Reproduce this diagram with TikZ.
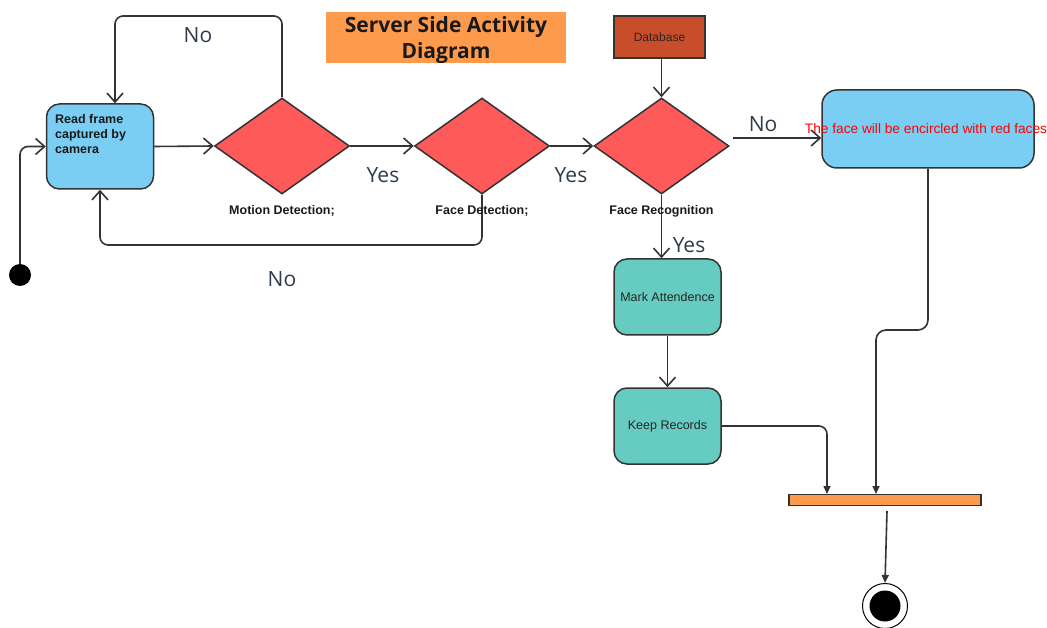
\documentclass[tikz,border=0pt]{standalone}
\usepackage{fontspec}
\setmainfont{Liberation Sans}
\newfontfamily\opensans{Open Sans}
\usetikzlibrary{arrows.meta,shapes.geometric}

\definecolor{actblue}{HTML}{7ACEF4}
\definecolor{decred}{HTML}{FF5A5A}
\definecolor{actteal}{HTML}{66CBC0}
\definecolor{barorange}{HTML}{FD9A4B}
\definecolor{dbbrown}{HTML}{C84D2B}
\definecolor{edge}{HTML}{333333}
\definecolor{answerink}{HTML}{2F3B4A}

\tikzset{
  bluebox/.style={draw=edge, line width=1.5pt, fill=actblue, rounded corners=13pt, inner sep=0pt},
  tealbox/.style={draw=edge, line width=1.5pt, fill=actteal, rounded corners=13pt,
    minimum width=107pt, minimum height=76pt, inner sep=0pt,
    font=\fontsize{12.5}{15}\selectfont, text=black!85},
  decision/.style={diamond, draw=edge, line width=1.5pt, fill=decred,
    minimum width=135pt, minimum height=96pt, inner sep=0pt},
  dlabel/.style={font=\bfseries\fontsize{12.5}{15}\selectfont, text=black!90, inner sep=0pt},
  answer/.style={font=\opensans\fontsize{21}{25}\selectfont, text=answerink, inner sep=0pt},
  flow/.style={draw=edge, line width=1.6pt, rounded corners=8pt,
    -{Straight Barb[length=9pt,width=16pt]}},
  joinflow/.style={draw=edge, line width=1.6pt, rounded corners=8pt,
    -{Triangle[length=8pt,width=7pt]}},
}

\begin{document}
\begin{tikzpicture}[x=1pt,y=-1pt]
\useasboundingbox (0,0) rectangle (1047,628);

% title banner
\node[fill=barorange, minimum width=240pt, minimum height=51pt, inner sep=0pt]
  (title) at (446,37.5) {};
\node[align=center, font=\opensans\bfseries\fontsize{21}{26}\selectfont, text=black!90,
      inner sep=0pt] (titletxt) at (446,40) {Server Side Activity\\Diagram};

% initial and final states
\node[circle, fill=black, minimum size=22pt, inner sep=0pt] (start) at (20,275) {};
\node[circle, draw=black, line width=1pt, fill=white, minimum size=45pt, inner sep=0pt]
  (final) at (885,606) {};
\fill[black] (final.center) circle (15.5pt);

% activities
\node[bluebox, minimum width=107pt, minimum height=85pt] (read) at (100,146.5) {};
\node[dlabel, anchor=north west, align=left] (readtxt) at (55,114)
  {Read frame\\captured by\\camera};

\node[bluebox, rounded corners=15pt, minimum width=212pt, minimum height=78pt]
  (encircle) at (928,129) {};
\node[font=\fontsize{13.7}{16}\selectfont, text=red, inner sep=0pt]
  (encircletxt) at (926,129) {The face will be encircled with red faces};

\node[tealbox] (mark) at (667.5,297) {Mark Attendence};
\node[tealbox] (keep) at (667.5,426) {Keep Records};

\node[draw=edge, line width=1.2pt, fill=dbbrown, minimum width=91pt, minimum height=42pt,
      inner sep=0pt, font=\fontsize{12}{14}\selectfont, text=black!85]
  (db) at (659.5,37) {Database};

% decisions
\node[decision] (motion) at (282,146) {};
\node[decision] (facedet) at (482,146) {};
\node[decision] (facerec) at (661.5,146) {};

% synchronisation bar
\node[draw=edge, line width=1.2pt, fill=barorange, minimum width=192pt, minimum height=11pt,
      inner sep=0pt] (bar) at (885,500) {};

% helper points for bends and detached ends
\coordinate (loopTop) at (115,16);
\coordinate (loopBottom) at (100,245);
\coordinate (noStart) at (733,138);
\coordinate (bendRight) at (876,330);
\coordinate (inA) at (827,494);
\coordinate (inB) at (876,494);
\coordinate (barOut) at (887,511);

% connectors
\draw[flow] (start.north) |- (read.west);
\draw[flow] (read.east) -- (motion.west);
\draw[flow] (motion.north) |- (loopTop) -- (loopTop |- read.north);
\draw[flow] (motion.east) -- (facedet.west);
\draw[flow] (facedet.south) |- (loopBottom) -- (loopBottom |- read.south);
\draw[flow] (facedet.east) -- (facerec.west);
\draw[flow] (db.south -| facerec.north) -- (facerec.north);
\draw[flow] (noStart) -- (noStart -| encircle.west);
\draw[flow] (facerec.south) -- (facerec.south |- mark.north);
\draw[flow] (mark.south) -- (keep.north);
\draw[joinflow] (keep.east) -| (inA);
\draw[joinflow, rounded corners=10pt] (encircle.south) |- (bendRight) -- (inB);
\draw[joinflow] (barOut) -- (final.north);

% decision captions
\node[dlabel] (motionlbl) at (282,211) {Motion Detection;};
\node[dlabel] (facedetlbl) at (482,211) {Face Detection;};
\node[dlabel] (facereclbl) at (661.5,211) {Face Recognition};

% guard labels
\node[answer] (no1) at (198,35) {No};
\node[answer] (yes1) at (383,175) {Yes};
\node[answer] (no2) at (282,279) {No};
\node[answer] (yes2) at (571,175) {Yes};
\node[answer] (no3) at (763,124) {No};
\node[answer] (yes3) at (689,245) {Yes};
\end{tikzpicture}
\end{document}
